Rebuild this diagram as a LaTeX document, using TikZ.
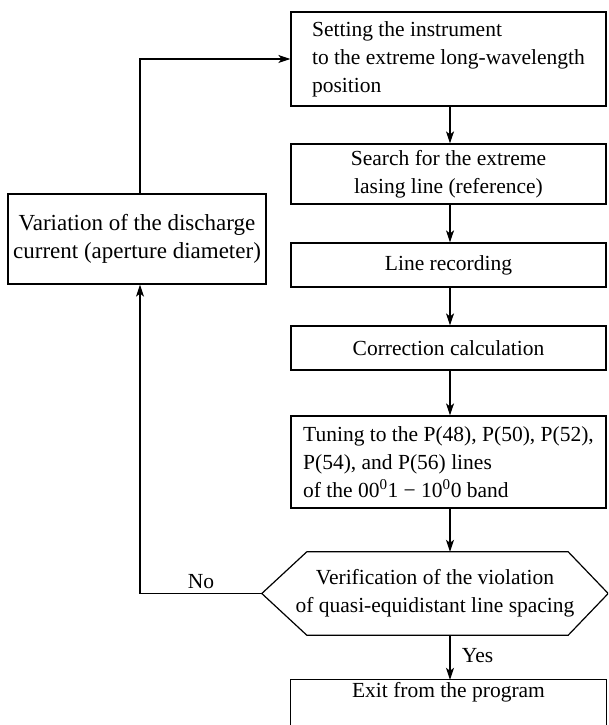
\documentclass[tikz,border=0pt]{standalone}
\usepackage{fontspec}
\setmainfont{Liberation Serif}
\usetikzlibrary{arrows.meta}
\begin{document}
\begin{tikzpicture}[x=1pt,y=1pt,
  every node/.style={font=\fontsize{21.5pt}{28pt}\selectfont},
  box/.style={draw,line width=1.2pt,minimum width=315pt,inner sep=0pt},
  conn/.style={line width=1.2pt,-{Stealth[length=12pt,width=8pt,inset=3pt]}},
  plain/.style={line width=1.2pt}]
\useasboundingbox (0,0) rectangle (608,-725);
\clip (0,0) rectangle (608,-725);
\node[box,align=left,minimum height=94pt] (b1) at (448.5,-59) {Setting the instrument\\to the extreme long-wavelength\\position};
\node[box,align=center,minimum height=60pt] (b2) at (448.5,-174) {Search for the extreme\\lasing line (reference)};
\node[box,minimum height=44pt] (rec) at (448.5,-265) {Line recording};
\node[box,minimum height=44pt] (cor) at (448.5,-348) {Correction calculation};
\node[box,align=left,minimum height=92pt] (tun) at (448.5,-462) {Tuning to the P(48), P(50), P(52),\\P(54), and P(56) lines\\of the 00\textsuperscript{0}1 − 10\textsuperscript{0}0 band};
\node[minimum width=346pt,minimum height=83pt,inner sep=0pt,align=center] (hex) at (435,-593.5) {Verification of the violation\\of quasi-equidistant line spacing};
\draw[plain] (hex.west) -- ([xshift=45pt]hex.north west) -- ([xshift=-40pt]hex.north east) -- (hex.east) -- ([xshift=-40pt]hex.south east) -- ([xshift=45pt]hex.south west) -- cycle;
\node[minimum width=315pt,minimum height=24pt,inner sep=0pt] (exit) at (448.5,-692) {Exit from the program};
\draw[plain] ([yshift=-40pt]exit.south west) -- (exit.north west) -- (exit.north east) -- ([yshift=-40pt]exit.south east);
\node[draw,line width=1.2pt,minimum width=258pt,minimum height=90pt,inner sep=0pt,align=center,font=\fontsize{23pt}{28pt}\selectfont] (left) at (137,-239) {Variation of the discharge\\current (aperture diameter)};
\coordinate (c1) at (450,0);
\draw[conn] (b1.south -| c1) -- (b2.north -| c1);
\draw[conn] (b2.south -| c1) -- (rec.north -| c1);
\draw[conn] (rec.south -| c1) -- (cor.north -| c1);
\draw[conn] (cor.south -| c1) -- (tun.north -| c1);
\draw[conn] (tun.south -| c1) -- (hex.north -| c1);
\draw[conn] (hex.south -| c1) -- (exit.north -| c1) node[pos=0.45,right=8pt] (yes) {Yes};
\coordinate (lx) at (140,0);
\draw[conn] (hex.west) -- (hex.west -| lx) node[pos=0.5,above=1pt] (no) {No} -- (left.south -| lx);
\draw[conn] (left.north -| lx) |- (b1.west);
\end{tikzpicture}
\end{document}
